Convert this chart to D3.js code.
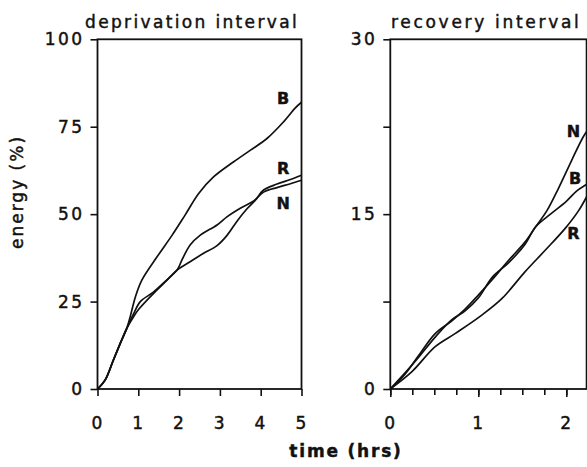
<!DOCTYPE html>
<html>
<head>
<meta charset="utf-8">
<script src="https://cdn.jsdelivr.net/npm/d3@7"></script>
<style>
  html, body { margin: 0; padding: 0; background: #fff; }
  svg { display: block; }
  text { font-family: "DejaVu Sans", "Liberation Sans", sans-serif; fill: #111; stroke: #111; stroke-width: 0.45px; }
</style>
</head>
<body>
<svg id="chart" width="587" height="467"></svg>
<script>
// ---------- DATA ----------
// Deprivation interval (time in hrs, energy %)
const depTicksX = [0, 1, 2, 3, 4, 5];
const depTicksY = [0, 25, 50, 75, 100];
const depB = [[0,0],[0.19,2.6],[0.39,8.3],[0.56,13.1],[0.72,17.4],[0.8,20.6],[0.93,26.4],[1.09,31.2],[1.46,37.8],[1.83,44.0],[2.15,49.8],[2.48,55.9],[2.85,60.7],[3.34,65.0],[3.75,68.3],[4.16,71.7],[4.56,76.4],[4.85,80.4],[5.0,82.0]];
const depR = [[0,0],[0.19,2.6],[0.39,8.3],[0.56,13.1],[0.72,17.4],[0.88,20.6],[1.01,22.8],[1.37,27.3],[1.66,30.6],[1.95,34.0],[2.27,36.4],[2.60,38.8],[2.93,41.0],[3.18,44.0],[3.42,48.0],[3.67,51.6],[3.87,54.0],[4.07,56.9],[4.40,58.6],[4.73,59.9],[5.0,61.1]];
const depN = [[0,0],[0.19,2.6],[0.39,8.3],[0.56,13.1],[0.72,17.4],[0.88,21.4],[1.05,25.0],[1.37,27.7],[1.66,30.8],[1.95,34.0],[2.07,36.9],[2.27,41.2],[2.52,44.0],[2.93,46.9],[3.18,49.3],[3.50,51.7],[3.83,53.8],[4.07,56.3],[4.40,57.6],[4.73,58.7],[5.0,59.7]];
const depLabels = ["B", "R", "N"];

// Recovery interval
const recTicksXMajor = [0, 1, 2];
const recTicksXMinor = [0, 0.25, 0.5, 0.75, 1, 1.25, 1.5, 1.75, 2];
const recTicksY = [0, 7.5, 15, 22.5, 30];
const recTickLabelsY = [0, 15, 30];
const recN = [[0,0],[0.17,1.3],[0.32,2.85],[0.51,4.75],[0.70,5.85],[0.85,6.85],[1.0,8.05],[1.16,9.4],[1.34,11.0],[1.53,12.6],[1.65,13.9],[1.78,15.3],[1.91,17.2],[2.06,19.6],[2.19,21.6],[2.26,22.4]];
const recB = [[0,0],[0.17,1.4],[0.32,2.7],[0.51,4.45],[0.70,5.95],[0.85,6.7],[1.0,7.8],[1.16,9.6],[1.34,10.8],[1.53,12.4],[1.65,13.9],[1.82,15.0],[2.0,16.1],[2.12,17.0],[2.22,17.5],[2.26,17.7]];
const recR = [[0,0],[0.246,1.49],[0.51,3.63],[0.74,4.77],[1.04,6.34],[1.27,7.77],[1.53,10.05],[1.76,11.9],[1.99,13.8],[2.14,15.3],[2.26,16.9]];
const recLabels = ["N", "B", "R"];

const titles = ["deprivation interval", "recovery interval"];
const yTitle = "energy (%)";
const xTitle = "time (hrs)";

// ---------- LAYOUT ----------
const svg = d3.select("#chart");
const plotTop = 39.3, plotBottom = 389;

const xDep = d3.scaleLinear().domain([0, 5]).range([97.5, 301.5]);
const yDep = d3.scaleLinear().domain([0, 100]).range([plotBottom, plotTop]);
const xRec = d3.scaleLinear().domain([0, 2]).range([390.3, 566.3]);
const yRec = d3.scaleLinear().domain([0, 30]).range([plotBottom, plotTop]);
const recRight = 586.6;

const line = (xs, ys) => d3.line().x(d => xs(d[0])).y(d => ys(d[1])).curve(d3.curveCatmullRom.alpha(0.5));

function styleAxis(g) {
  g.select(".domain").remove();
  g.selectAll("line").attr("stroke", "#111").attr("stroke-width", 1.6);
  g.selectAll("text").attr("font-size", 17).attr("letter-spacing", 2.4).attr("fill", "#111");
}

svg.append("defs").append("clipPath").attr("id", "clipRec")
  .append("rect").attr("x", xRec(0)).attr("y", plotTop).attr("width", recRight - xRec(0)).attr("height", plotBottom - plotTop);

// ---------- LEFT PANEL ----------
svg.append("rect").attr("x", xDep(0)).attr("y", plotTop).attr("width", xDep(5) - xDep(0)).attr("height", plotBottom - plotTop)
  .attr("fill", "none").attr("stroke", "#111").attr("stroke-width", 1.8);

svg.append("g").attr("transform", `translate(0,${plotBottom})`)
  .call(d3.axisBottom(xDep).tickValues(depTicksX).tickSize(7).tickPadding(21).tickFormat(d3.format("d")))
  .call(styleAxis);
svg.append("g").attr("transform", `translate(${xDep(0)},0)`)
  .call(d3.axisLeft(yDep).tickValues(depTicksY).tickSize(7).tickPadding(6).tickFormat(d3.format("d")))
  .call(styleAxis);

[depB, depR, depN].forEach(s => {
  svg.append("path").datum(s).attr("d", line(xDep, yDep)).attr("fill", "none")
    .attr("stroke", "#111").attr("stroke-width", 1.7).attr("stroke-linejoin", "round");
});
const depLabelPos = [[4.55, 83.0], [4.55, 63.1], [4.55, 53.1]];
depLabels.forEach((l, i) => {
  svg.append("text").attr("x", xDep(depLabelPos[i][0])).attr("y", yDep(depLabelPos[i][1]))
    .attr("text-anchor", "middle").attr("dominant-baseline", "central")
    .attr("font-size", 16).attr("font-weight", "bold").text(l);
});

// ---------- RIGHT PANEL ----------
svg.append("rect").attr("x", xRec(0)).attr("y", plotTop).attr("width", recRight - xRec(0)).attr("height", plotBottom - plotTop)
  .attr("fill", "none").attr("stroke", "#111").attr("stroke-width", 1.8);

svg.append("g").attr("transform", `translate(0,${plotBottom})`)
  .call(d3.axisBottom(xRec).tickValues(recTicksXMinor).tickSize(6).tickFormat(""))
  .call(styleAxis);
svg.append("g").attr("transform", `translate(0,${plotBottom})`)
  .call(d3.axisBottom(xRec).tickValues(recTicksXMajor).tickSize(8).tickPadding(20).tickFormat(d3.format("d")))
  .call(styleAxis);
svg.append("g").attr("transform", `translate(${xRec(0)},0)`)
  .call(d3.axisLeft(yRec).tickValues(recTicksY).tickSize(7).tickPadding(6)
    .tickFormat(d => recTickLabelsY.includes(d) ? d3.format("d")(d) : ""))
  .call(styleAxis);

const recG = svg.append("g").attr("clip-path", "url(#clipRec)");
[recN, recB, recR].forEach(s => {
  recG.append("path").datum(s).attr("d", line(xRec, yRec)).attr("fill", "none")
    .attr("stroke", "#111").attr("stroke-width", 1.7).attr("stroke-linejoin", "round");
});
const recLabelPos = [[2.08, 22.05], [2.10, 18.06], [2.08, 13.35]];
recLabels.forEach((l, i) => {
  svg.append("text").attr("x", xRec(recLabelPos[i][0])).attr("y", yRec(recLabelPos[i][1]))
    .attr("text-anchor", "middle").attr("dominant-baseline", "central")
    .attr("font-size", 16).attr("font-weight", "bold").text(l);
});

// ---------- TITLES ----------
svg.append("text").attr("x", 85).attr("y", 28).attr("font-size", 17).attr("letter-spacing", 2.35).text(titles[0]);
svg.append("text").attr("x", 391).attr("y", 28).attr("font-size", 17).attr("letter-spacing", 2.7).text(titles[1]);

svg.append("text").attr("transform", "translate(23,192) rotate(-90)").attr("text-anchor", "middle")
  .attr("font-size", 17).attr("letter-spacing", 2.0).text(yTitle);
svg.append("text").attr("x", 346).attr("y", 457).attr("text-anchor", "middle")
  .attr("font-size", 17).attr("font-weight", "bold").attr("letter-spacing", 1.8).text(xTitle);
</script>
</body>
</html>
